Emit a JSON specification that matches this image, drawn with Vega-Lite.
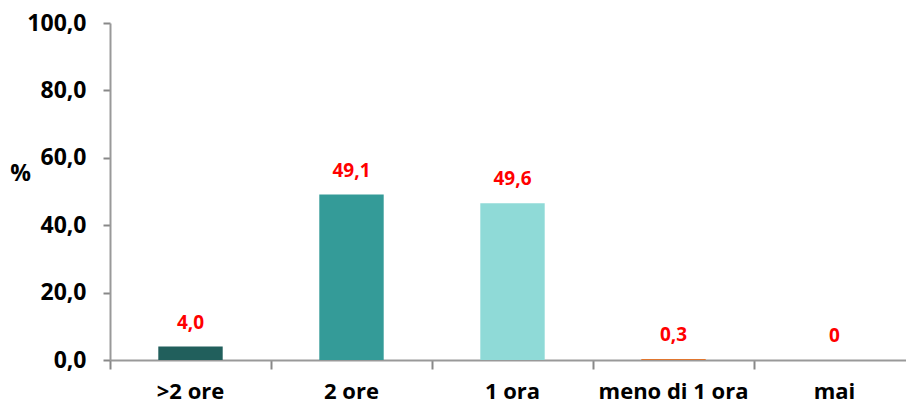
{
  "$schema": "https://vega.github.io/schema/vega-lite/v6.json",
  "width": 805,
  "height": 337,
  "autosize": {"type": "none"},
  "padding": {"left": 110, "top": 23, "right": 0, "bottom": 47},
  "background": "white",
  "config": {"view": {"stroke": null}, "font": "Open Sans"},
  "data": {
    "values": [
      {"cat": ">2 ore", "value": 4.0, "label": "4,0", "color": "#215f5c"},
      {"cat": "2 ore", "value": 49.1, "label": "49,1", "color": "#349b98"},
      {"cat": "1 ora", "value": 46.5, "label": "49,6", "color": "#8fdad7"},
      {"cat": "meno di 1 ora", "value": 0.3, "label": "0,3", "color": "#e0762f"},
      {"cat": "mai", "value": 0, "label": "0", "color": "#8fdad7"}
    ]
  },
  "encoding": {
    "x": {
      "field": "cat",
      "type": "nominal",
      "sort": null,
      "scale": {"paddingInner": 0, "paddingOuter": 0},
      "axis": {
        "title": null,
        "labelAngle": 0,
        "labelFont": "Open Sans",
        "labelFontWeight": "bold",
        "labelFontSize": 22,
        "labelColor": "black",
        "labelPadding": 12,
        "bandPosition": 0,
        "tickSize": 9,
        "tickColor": "#888888",
        "tickWidth": 2,
        "domainColor": "#999999",
        "domainWidth": 2
      }
    },
    "y": {
      "field": "value",
      "type": "quantitative",
      "scale": {"domain": [0, 100], "nice": false},
      "axis": {
        "values": [0, 20, 40, 60, 80, 100],
        "labelExpr": "replace(format(datum.value, '.1f'), '.', ',')",
        "grid": false,
        "title": "%",
        "titleAngle": 0,
        "titleX": -90,
        "titleY": 150,
        "titleAlign": "center",
        "titleBaseline": "middle",
        "titleFont": "Open Sans",
        "titleFontWeight": "bold",
        "titleFontSize": 23,
        "titleColor": "black",
        "labelFont": "Open Sans",
        "labelFontWeight": "bold",
        "labelFontSize": 23,
        "labelColor": "black",
        "labelPadding": 17,
        "tickSize": 7,
        "tickColor": "#888888",
        "tickWidth": 2,
        "domainColor": "#999999",
        "domainWidth": 2
      }
    }
  },
  "layer": [
    {
      "mark": {"type": "bar", "width": {"band": 0.4}},
      "encoding": {
        "color": {"field": "color", "type": "nominal", "scale": null}
      }
    },
    {
      "mark": {
        "type": "text",
        "dy": -24,
        "baseline": "middle",
        "align": "center",
        "color": "#ff0000",
        "fontWeight": "bold",
        "fontSize": 19,
        "font": "Open Sans"
      },
      "encoding": {"text": {"field": "label"}}
    }
  ]
}
